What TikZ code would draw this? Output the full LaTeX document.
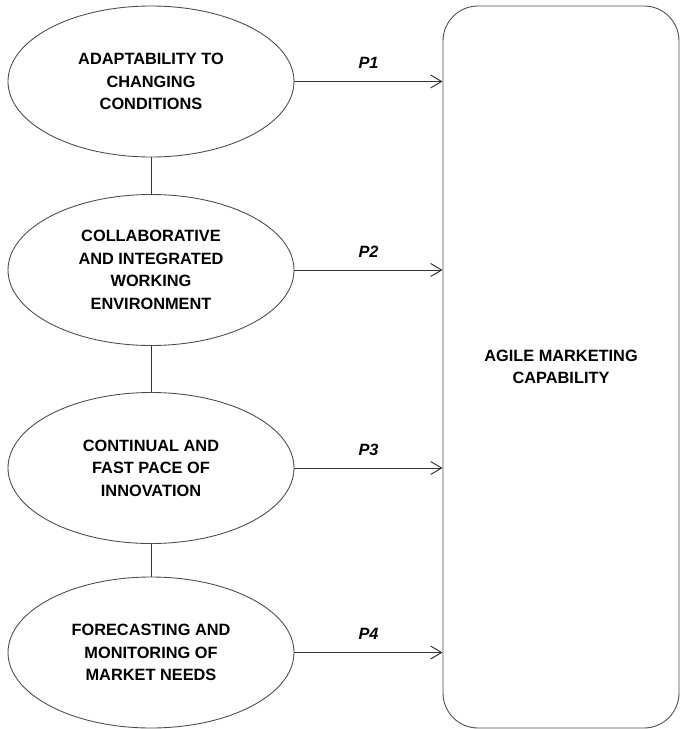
\documentclass[tikz,border=0pt]{standalone}
\usepackage{fontspec}
\setmainfont{Liberation Sans}
\usetikzlibrary{shapes.geometric, positioning, arrows.meta}

\begin{document}
\begin{tikzpicture}[
  factor/.style={ellipse, draw=black!70, line width=0.5pt, minimum width=5.72cm, minimum height=3.02cm,
    inner sep=0pt, align=center, font=\fontsize{9.3}{12.8}\selectfont\bfseries},
  link/.style={draw=black!80, line width=0.55pt},
  prop/.style={link, -{Straight Barb[length=2.2mm, width=2.6mm]}},
  plabel/.style={above=7pt, inner sep=0pt, font=\fontsize{9.3}{11}\selectfont\bfseries\itshape}
]
\useasboundingbox (0,0) rectangle (13.6,-14.58);
\node[factor] (adapt) at (3.02,-1.63) {ADAPTABILITY TO\\CHANGING\\CONDITIONS};
\node[factor] (collab) at (3.02,-5.40) {COLLABORATIVE\\AND INTEGRATED\\WORKING\\ENVIRONMENT};
\node[factor] (innov) at (3.02,-9.36) {CONTINUAL AND\\FAST PACE OF\\INNOVATION};
\node[factor] (forecast) at (3.02,-13.05) {FORECASTING AND\\MONITORING OF\\MARKET NEEDS};
\node[draw=black!70, line width=0.5pt, rounded corners=0.7cm, minimum width=4.72cm, minimum height=14.44cm,
  align=center, font=\fontsize{9.3}{12.8}\selectfont\bfseries] (agile) at (11.22,-7.34) {AGILE MARKETING\\CAPABILITY};
% vertical links between the factors
\draw[link] (adapt.south) -- (collab.north);
\draw[link] (collab.south) -- (innov.north);
\draw[link] (innov.south) -- (forecast.north);
% propositions
\draw[prop] (adapt.east) -- (agile.west |- adapt.east) node[midway, plabel]{P1};
\draw[prop] (collab.east) -- (agile.west |- collab.east) node[midway, plabel]{P2};
\draw[prop] (innov.east) -- (agile.west |- innov.east) node[midway, plabel]{P3};
\draw[prop] (forecast.east) -- (agile.west |- forecast.east) node[midway, plabel]{P4};
\end{tikzpicture}
\end{document}
